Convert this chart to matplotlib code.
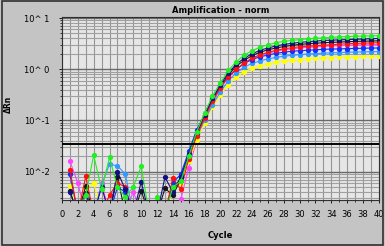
import matplotlib
matplotlib.use("Agg")
from matplotlib import pyplot as plt
from matplotlib.patches import Rectangle

cycles = list(range(1, 41))
threshold = 0.035

# delta Rn per cycle (values below the axis are drawn off-scale)
green = [0.0015, 0.0015, 0.0035, 0.021, 0.0045, 0.019, 0.005, 0.0032, 0.0051, 0.0127, 0.0015, 0.0032, 0.0015,
         0.005, 0.0065, 0.02, 0.06, 0.14, 0.30, 0.55, 0.95, 1.4, 1.9, 2.3, 2.7, 3.0, 3.3, 3.5, 3.65, 3.8, 3.9,
         4.0, 4.1, 4.2, 4.3, 4.35, 4.4, 4.45, 4.5, 4.55]
red = [0.011, 0.0015, 0.0081, 0.0015, 0.0015, 0.0035, 0.006, 0.005, 0.0015, 0.0015, 0.0015, 0.0015, 0.0015,
       0.0075, 0.0045, 0.0178, 0.05, 0.112, 0.24, 0.44, 0.71, 1.0, 1.32, 1.66, 1.91, 2.14, 2.34, 2.51, 2.63,
       2.75, 2.82, 2.88, 2.95, 3.02, 3.09, 3.16, 3.18, 3.24, 3.27, 3.31]
navy = [0.004, 0.0015, 0.0038, 0.0015, 0.005, 0.0015, 0.01, 0.0045, 0.0015, 0.0064, 0.0015, 0.0015, 0.0078,
        0.004, 0.008, 0.022, 0.06, 0.13, 0.27, 0.5, 0.85, 1.25, 1.65, 2.0, 2.35, 2.6, 2.85, 3.05, 3.2, 3.35,
        3.45, 3.55, 3.65, 3.7, 3.75, 3.8, 3.85, 3.9, 3.95, 4.0]
black = [0.0042, 0.0015, 0.0052, 0.0015, 0.0015, 0.0015, 0.008, 0.0015, 0.0015, 0.0042, 0.0015, 0.0015, 0.0047,
         0.0035, 0.007, 0.02, 0.055, 0.12, 0.25, 0.46, 0.78, 1.15, 1.5, 1.85, 2.15, 2.4, 2.6, 2.78, 2.92, 3.05,
         3.15, 3.22, 3.3, 3.35, 3.4, 3.45, 3.5, 3.53, 3.56, 3.6]
blue = [0.009, 0.0015, 0.0035, 0.0015, 0.0015, 0.0015, 0.005, 0.004, 0.0015, 0.0015, 0.0015, 0.0015, 0.0015,
        0.006, 0.009, 0.025, 0.065, 0.13, 0.26, 0.45, 0.72, 1.0, 1.3, 1.55, 1.75, 1.9, 2.05, 2.15, 2.25, 2.3,
        2.35, 2.4, 2.45, 2.48, 2.5, 2.53, 2.55, 2.57, 2.6, 2.6]
lightblue = [0.0015, 0.0015, 0.0015, 0.0015, 0.0055, 0.014, 0.013, 0.009, 0.0015, 0.0015, 0.0015, 0.0015, 0.0015,
             0.005, 0.007, 0.02, 0.05, 0.1, 0.2, 0.36, 0.6, 0.85, 1.1, 1.3, 1.45, 1.6, 1.7, 1.8, 1.87, 1.93,
             1.98, 2.02, 2.06, 2.1, 2.12, 2.15, 2.17, 2.19, 2.2, 2.22]
yellow = [0.0052, 0.0015, 0.0045, 0.006, 0.0015, 0.0015, 0.0015, 0.0015, 0.0015, 0.0015, 0.0015, 0.0015, 0.0015,
          0.004, 0.006, 0.016, 0.042, 0.09, 0.18, 0.32, 0.5, 0.7, 0.9, 1.05, 1.18, 1.28, 1.37, 1.44, 1.5, 1.55,
          1.6, 1.63, 1.66, 1.69, 1.72, 1.74, 1.76, 1.78, 1.79, 1.8]
magenta = [0.016, 0.006, 0.0015, 0.0015, 0.006, 0.0015, 0.0015, 0.0015, 0.0041, 0.0015, 0.0015, 0.0015, 0.0015,
           0.0015, 0.0029, 0.012, 0.04, 0.1, 0.22, 0.42, 0.7, 1.0, 1.3, 1.6, 1.85, 2.05, 2.25, 2.4, 2.5, 2.6,
           2.68, 2.74, 2.8, 2.85, 2.9, 2.94, 2.97, 3.0, 3.02, 3.05]

series = [(magenta, "#ff44ff"), (yellow, "#ffff00"), (lightblue, "#3399ff"), (black, "#151515"),
          (blue, "#1030ff"), (red, "#ff1010"), (navy, "#101080"), (green, "#22ee22")]

yticks = [0.01, 0.1, 1, 10]
ylabels = ["10^-2", "10^-1", "10^ 0", "10^ 1"]

fig = plt.figure(figsize=(3.85, 2.46), dpi=100, facecolor="#c4c4c4")
fig.patches.append(Rectangle((0.004, 0.006), 0.99, 0.99, transform=fig.transFigure,
                             fill=False, edgecolor="#303030", linewidth=1.2))
ax = fig.add_axes([0.161, 0.187, 0.823, 0.744])
ax.set_facecolor("#e6e6e6")

for vals, col in series:
    ax.plot(cycles, vals, color=col, linewidth=0.8, marker="o", markersize=3.8,
            markeredgewidth=0, zorder=3)

ax.axhline(threshold, color="black", linewidth=1.4, zorder=4)

ax.set_yscale("log")
ax.set_ylim(0.0028, 10.5)
ax.set_xlim(0, 40)
ax.set_xticks(range(0, 41, 2))
ax.set_xticks(range(0, 41), minor=True)
ax.set_yticks(yticks)
ax.set_yticklabels(ylabels)

ax.grid(which="major", axis="y", color="#6a6a6a", linewidth=1.0)
ax.grid(which="minor", axis="y", color="#a0a0a0", linewidth=0.8)
ax.grid(which="both", axis="x", color="#959595", linewidth=0.8)
ax.set_axisbelow(True)

ax.tick_params(axis="x", labelsize=6, length=2, width=0.6, pad=5)
ax.tick_params(axis="y", labelsize=6, length=2, width=0.6, pad=7)
ax.tick_params(which="minor", length=1.5, width=0.5)
for sp in ax.spines.values():
    sp.set_color("#303030")
    sp.set_linewidth(0.8)

ax.set_title("Amplification - norm", fontsize=6, fontweight="bold", pad=3)
ax.set_xlabel("Cycle", fontsize=6, fontweight="bold", labelpad=9)
ax.set_ylabel("ΔRn", fontsize=5.5, fontweight="bold")
ax.yaxis.set_label_coords(-0.155, 0.52)

fig.savefig("out.png", dpi=100, facecolor=fig.get_facecolor())
